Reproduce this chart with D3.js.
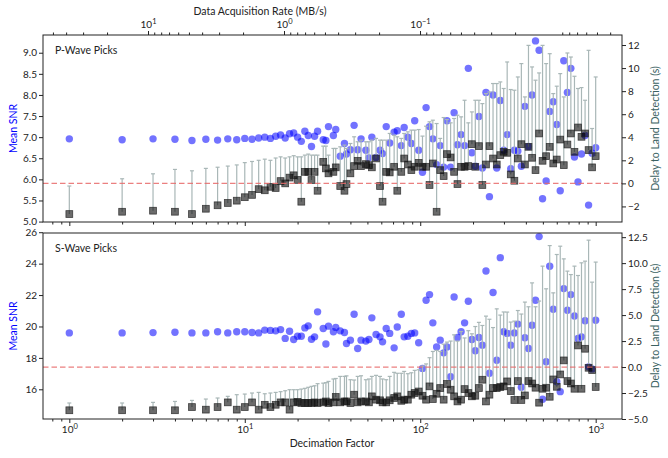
<!DOCTYPE html>
<html>
<head>
<meta charset="utf-8">
<script src="https://d3js.org/d3.v7.min.js"></script>
<style>
  body { margin: 0; background: #fff; }
  svg text { font-family: Lato, "Noto Sans", sans-serif; fill: #222; }
  .tick line { stroke: #222; }
</style>
</head>
<body>
<script>
// decimation factors (x values, shared by both panels)
const decimation = [1,2,3,4,5,6,7,8,9,10,11,12,13,14,15,16,17,18,19,20,
  21,22,23,24,25,26,28,29,30,32,33,35,37,38,40,42,44,46,49,51,53,56,59,61,64,67,71,74,78,81,85,89,93,98,
  103,108,113,118,124,130,136,142,149,156,163,171,179,188,197,
  206,216,226,237,248,260,273,286,299,313,328,344,360,377,395,
  414,434,454,476,498,522,547,573,600,628,658,690,722,757,793,830,870,911,954,1000]

// P-wave panel
const snrP = [6.96,6.94,6.96,6.95,6.92,6.95,6.93,6.96,6.94,6.97,6.95,6.98,7.00,6.97,7.02,7.05,6.98,7.08,7.10,7.00,
  6.90,7.14,7.04,6.78,7.02,7.14,6.94,6.92,7.25,7.04,7.18,6.55,6.85,6.60,6.70,7.28,6.70,6.96,6.69,6.51,7.00,6.52,6.69,6.61,7.25,6.86,7.12,7.15,6.80,7.23,7.00,6.85,7.39,6.69,
  6.17,7.70,7.25,6.96,6.35,6.80,6.29,7.39,6.29,7.58,6.82,7.06,6.80,8.63,6.63,
  6.31,7.49,6.27,8.06,5.59,8.00,6.27,7.87,6.69,7.06,6.25,6.69,6.67,6.31,7.73,
  6.78,8.00,9.28,9.06,5.54,5.96,7.61,7.84,7.30,5.73,8.81,8.06,8.63,6.53,5.94,6.60,7.04,5.39,6.62,6.75]
const delayP = [-2.66,-2.46,-2.37,-2.46,-2.66,-2.2,-1.9,-1.7,-1.5,-1.2,-1.0,-0.5,-0.6,-0.3,-0.4,0.2,0.0,0.5,0.7,0.3,
  -1.59,1.0,1.0,0.29,1.0,-0.64,1.87,1.30,0.87,1.0,1.39,-0.23,-0.64,-0.06,0.87,1.50,1.96,1.50,1.67,1.58,1.39,2.16,-0.23,-1.59,1.0,0.95,1.44,-0.64,1.0,2.16,1.64,1.15,1.44,1.78,
  1.44,1.44,-0.14,1.73,-2.46,1.15,0.63,2.54,2.25,1.0,-0.06,1.44,1.44,1.50,3.40,
  1.44,3.23,-0.14,1.64,3.23,2.16,1.64,2.45,2.74,2.65,0.78,0.23,2.16,3.40,1.64,
  3.17,2.22,1.15,4.33,1.96,2.36,3.17,1.73,2.07,3.80,1.58,3.37,4.33,2.74,4.85,4.04,4.33,2.89,1.39,2.36]
const upperP = [-0.23,0.40,0.83,1.21,1.09,1.3,1.4,1.5,1.6,1.8,1.9,2.0,2.1,2.0,2.2,2.3,2.2,2.3,2.4,2.3,
  2.30,2.45,2.54,2.45,2.45,2.45,3.23,3.23,2.45,3.03,3.03,3.17,3.32,3.03,3.46,4.04,3.61,3.75,3.61,3.61,3.75,3.90,3.75,3.75,3.75,4.33,4.18,4.04,3.90,4.33,4.47,4.62,4.62,4.67,
  4.10,4.96,5.34,5.48,5.19,3.90,5.71,5.54,5.25,5.63,5.91,5.77,7.21,5.25,6.20,
  7.21,7.21,6.92,7.79,7.93,8.66,8.66,8.80,8.23,10.53,8.14,8.08,9.23,10.39,7.50,
  11.97,10.10,8.95,9.58,11.97,10.39,11.25,7.79,8.43,9.52,7.50,11.31,10.96,9.29,8.23,8.31,7.21,11.54,4.76,9.23]

// S-wave panel
const snrS = [19.59,19.59,19.61,19.63,19.59,19.59,19.66,19.59,19.66,19.66,19.62,19.59,19.77,19.75,19.72,19.80,19.24,19.70,19.17,19.38,
  19.38,19.91,20.04,19.19,19.34,20.93,19.87,18.88,20.02,19.66,19.94,19.72,19.62,18.92,19.13,20.78,18.60,19.13,19.07,19.17,20.55,19.49,19.34,19.02,19.87,19.56,18.64,19.97,20.78,19.34,19.38,19.56,19.59,18.96,
  17.33,21.67,22.03,20.23,18.70,19.13,18.32,18.70,16.80,21.88,19.30,19.66,20.23,21.61,19.17,
  18.45,19.30,18.81,23.53,17.02,22.16,17.85,24.38,19.66,19.56,18.81,19.59,20.15,16.13,19.28,
  18.60,20.08,21.67,25.72,15.37,17.75,23.83,21.10,16.48,15.85,22.41,21.03,22.03,20.67,19.24,19.34,20.36,17.43,17.30,20.40]
const delayS = [-4.16,-4.16,-4.16,-4.16,-3.85,-4.10,-3.85,-3.40,-4.10,-3.85,-3.40,-4.10,-3.63,-3.85,-3.63,-3.40,-3.40,-4.10,-3.40,-3.35,
  -3.46,-3.46,-3.46,-3.46,-3.40,-3.46,-3.40,-3.31,-3.46,-3.40,-2.88,-3.40,-3.31,-3.31,-3.46,-2.66,-3.40,-3.31,-3.31,-3.40,-2.82,-3.14,-3.20,-3.40,-3.40,-3.20,-2.98,-2.82,-3.25,-3.14,-3.14,-2.66,-2.50,-2.35,
  -2.76,-3.14,-1.86,-3.08,-2.57,-2.02,-3.14,-1.63,-2.18,-2.82,-3.31,-3.14,-2.12,-2.50,-2.82,
  -2.76,-2.02,-1.22,-3.31,-2.66,-2.02,-2.02,-1.92,-1.86,-1.38,-2.31,-3.17,-1.35,-3.17,-2.73,
  -1.35,-1.58,-1.99,-3.43,-2.09,-1.99,-2.86,-1.19,-1.90,-0.71,0.64,-1.35,-1.58,-2.09,2.08,-2.09,1.76,-0.07,-0.29,-1.92]
const upperS = [-3.46,-3.46,-3.40,-3.31,-3.21,-3.08,-2.98,-2.82,-2.66,-2.60,-2.50,-2.44,-2.57,-2.50,-2.44,-2.37,-2.28,-2.18,-2.18,-2.18,
  -2.12,-2.05,-1.95,-1.86,-1.80,-1.60,-1.55,-1.50,-1.38,-1.15,-1.10,-0.90,-0.90,-0.85,-1.22,-1.25,-0.90,-0.84,-1.22,-1.15,-0.90,-0.80,-0.90,-1.15,-1.22,-0.90,-0.51,-0.60,-0.60,-0.42,-0.64,-0.55,-0.32,-0.26,
  0.10,0.30,0.90,1.50,1.60,1.50,2.20,2.40,2.50,3.10,2.50,3.42,2.80,3.50,3.20,
  3.90,4.30,4.00,4.90,4.60,3.80,5.60,5.00,5.30,5.29,4.33,4.42,5.44,5.10,6.25,
  5.80,8.10,5.80,6.35,9.71,7.53,11.69,7.14,10.83,11.63,10.41,9.23,8.90,9.71,8.81,10.03,10.19,12.21,8.17,10.10]

// tick values
const xMajor = [1, 10, 100, 1000]
const rateMajor = [10, 1, 0.1]
const snrTicksP = [5.0, 5.5, 6.0, 6.5, 7.0, 7.5, 8.0, 8.5, 9.0]
const delayTicksP = [-2, 0, 2, 4, 6, 8, 10, 12]
const snrTicksS = [16, 18, 20, 22, 24, 26]
const delayTicksS = [-5.0, -2.5, 0.0, 2.5, 5.0, 7.5, 10.0, 12.5]

const width = 668
const height = 458
const left = 43, right = 622

const svg = d3.select('body').append('svg')
    .attr('width', width)
    .attr('height', height)

const x = d3.scaleLog().domain([Math.pow(10, -0.15), Math.pow(10, 3.15)]).range([left, right])
const rate = d3.scaleLog().domain([Math.pow(10, 1.772), Math.pow(10, -2.485)]).range([left, right])

const isPow10 = v => Math.abs(Math.log10(v) - Math.round(Math.log10(v))) < 1e-6

const supLabels = (sel) => {
    sel.selectAll('.tick text').each(function (d) {
        const t = d3.select(this).text('')
        t.append('tspan').text('10')
        t.append('tspan').attr('dy', '-0.5em').attr('font-size', '7.5px')
            .text(String(Math.round(Math.log10(d))).replace('-', '\u2212'))
    })
}

const panels = [
    { title: 'P-Wave Picks', top: 35, bottom: 222, snr: snrP, delay: delayP, upper: upperP,
      snrDomain: [4.99, 9.42], delayDomain: [-3.35, 12.87], snrTicks: snrTicksP, delayTicks: delayTicksP,
      fmtL: d3.format('.1f'), fmtR: d3.format('d'), bottomLabels: false },
    { title: 'S-Wave Picks', top: 233, bottom: 419, snr: snrS, delay: delayS, upper: upperS,
      snrDomain: [14.11, 25.95], delayDomain: [-5.0, 12.9], snrTicks: snrTicksS, delayTicks: delayTicksS,
      fmtL: d3.format('d'), fmtR: d3.format('.1f'), bottomLabels: true }
]

panels.forEach(p => {
    const yL = d3.scaleLinear().domain(p.snrDomain).range([p.bottom, p.top])
    const yR = d3.scaleLinear().domain(p.delayDomain).range([p.bottom, p.top])
    const g = svg.append('g')

    // SNR circles
    g.selectAll('circle')
        .data(decimation)
        .enter()
        .append('circle')
            .attr('cx', d => x(d))
            .attr('cy', (d, i) => yL(p.snr[i]))
            .attr('r', 3.7)
            .attr('fill', 'blue')
            .attr('fill-opacity', 0.55)

    // delay error bars (upper only)
    const bars = g.selectAll('.bar').data(decimation).enter().append('g').attr('class', 'bar')
    bars.append('line')
        .attr('x1', d => x(d)).attr('x2', d => x(d))
        .attr('y1', (d, i) => yR(p.delay[i])).attr('y2', (d, i) => yR(p.upper[i]))
        .attr('stroke', '#a9b7b7').attr('stroke-width', 1.2)
    bars.append('line')
        .attr('x1', d => x(d) - 2).attr('x2', d => x(d) + 2)
        .attr('y1', (d, i) => yR(p.upper[i])).attr('y2', (d, i) => yR(p.upper[i]))
        .attr('stroke', '#a9b7b7').attr('stroke-width', 1.2)

    // delay squares
    g.selectAll('rect.sq')
        .data(decimation)
        .enter()
        .append('rect')
            .attr('class', 'sq')
            .attr('x', d => x(d) - 3.4)
            .attr('y', (d, i) => yR(p.delay[i]) - 3.4)
            .attr('width', 6.8)
            .attr('height', 6.8)
            .attr('fill', 'black')
            .attr('fill-opacity', 0.58)
            .attr('stroke', '#222')
            .attr('stroke-opacity', 0.8)
            .attr('stroke-width', 0.8)

    // zero delay line
    g.append('line')
        .attr('x1', left).attr('x2', right)
        .attr('y1', yR(0)).attr('y2', yR(0))
        .attr('stroke', '#e86a6a').attr('stroke-opacity', 0.85).attr('stroke-width', 1.3)
        .attr('stroke-dasharray', '5.5,3')

    // frame
    svg.append('rect')
        .attr('x', left).attr('y', p.top)
        .attr('width', right - left).attr('height', p.bottom - p.top)
        .attr('fill', 'none').attr('stroke', '#222').attr('stroke-width', 1)

    // left axis
    const aL = svg.append('g').attr('transform', `translate(${left},0)`)
        .call(d3.axisLeft(yL).tickValues(p.snrTicks).tickFormat(p.fmtL).tickSize(4).tickPadding(2))
    aL.select('.domain').remove()
    aL.selectAll('text').attr('font-size', '10px')

    // right axis
    const aR = svg.append('g').attr('transform', `translate(${right},0)`)
        .call(d3.axisRight(yR).tickValues(p.delayTicks).tickFormat(p.fmtR).tickSize(4).tickPadding(2))
    aR.select('.domain').remove()
    aR.selectAll('text').attr('font-size', '10px')

    // bottom x axis
    const xb = x.ticks().filter(v => v >= x.domain()[0] && v <= x.domain()[1])
    const aBmin = svg.append('g').attr('transform', `translate(0,${p.bottom})`)
        .call(d3.axisBottom(x).tickValues(xb.filter(v => !isPow10(v))).tickFormat('').tickSize(2.5))
    aBmin.select('.domain').remove()
    const aB = svg.append('g').attr('transform', `translate(0,${p.bottom})`)
        .call(d3.axisBottom(x).tickValues(xMajor).tickSize(4).tickPadding(3))
    aB.select('.domain').remove()
    aB.selectAll('text').attr('font-size', '10px')
    if (p.bottomLabels) supLabels(aB)
    else aB.selectAll('text').remove()

    // title
    svg.append('text').attr('x', 55).attr('y', p.top + 19)
        .attr('font-size', '10.5px').text(p.title)

    // y labels
    const mid = (p.top + p.bottom) / 2
    svg.append('text')
        .attr('transform', `translate(17,${mid}) rotate(-90)`)
        .attr('text-anchor', 'middle').attr('font-size', '10.5px')
        .style('fill', 'blue').text('Mean SNR')
    svg.append('text')
        .attr('transform', `translate(659,${mid}) rotate(-90)`)
        .attr('text-anchor', 'middle').attr('font-size', '10.5px')
        .style('fill', '#3b6262').text('Delay to Land Detection (s)')
})

// top axis: data acquisition rate
const rt = rate.ticks().filter(v => v <= rate.domain()[0] && v >= rate.domain()[1])
const aTmin = svg.append('g').attr('transform', 'translate(0,35)')
    .call(d3.axisTop(rate).tickValues(rt.filter(v => !isPow10(v))).tickFormat('').tickSize(2.5))
aTmin.select('.domain').remove()
const aT = svg.append('g').attr('transform', 'translate(0,35)')
    .call(d3.axisTop(rate).tickValues(rateMajor).tickSize(4).tickPadding(3))
aT.select('.domain').remove()
aT.selectAll('text').attr('font-size', '10px')
supLabels(aT)

svg.append('text').attr('x', 260).attr('y', 15)
    .attr('text-anchor', 'middle').attr('font-size', '10.5px')
    .text('Data Acquisition Rate (MB/s)')

svg.append('text').attr('x', 332).attr('y', 447)
    .attr('text-anchor', 'middle').attr('font-size', '10.5px')
    .text('Decimation Factor')
</script>
</body>
</html>
